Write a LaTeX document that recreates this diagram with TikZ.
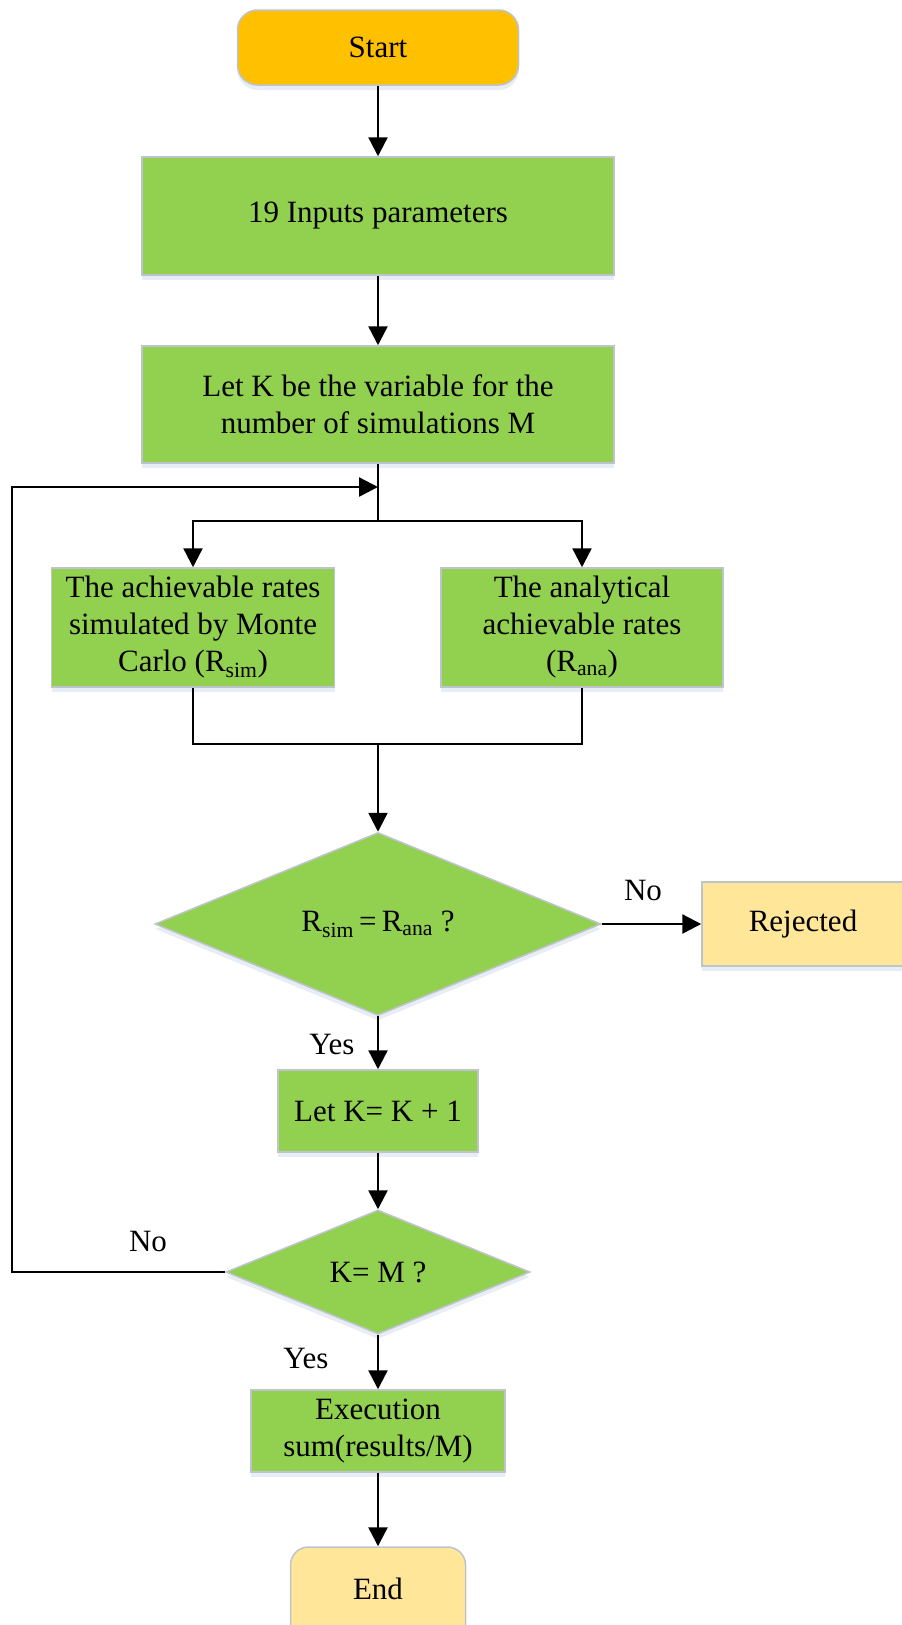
\documentclass[tikz,border=0pt]{standalone}
\usepackage{fontspec}
\setmainfont{Liberation Serif}
\usetikzlibrary{arrows.meta,shapes.geometric,shadows}
\definecolor{gfill}{HTML}{92D050}
\definecolor{ofill}{HTML}{FFC000}
\definecolor{yfill}{HTML}{FFE699}
\definecolor{bord}{HTML}{BFC4CC}
\definecolor{shc}{HTML}{C4D2E6}
\tikzset{
  base/.style={draw=bord, line width=1.5pt, inner sep=0pt, align=center,
    font=\fontsize{31}{37}\selectfont,
    drop shadow={shadow xshift=0pt, shadow yshift=-5pt, fill=shc, opacity=0.4}},
  gbox/.style={base, rectangle, fill=gfill},
  term/.style={base, rectangle, rounded corners=20pt},
  dia/.style={base, diamond, fill=gfill, aspect=2},
  conn/.style={line width=2.4pt, black},
  arr/.style={conn, -{Triangle[length=19pt,width=19pt]}},
  lbl/.style={font=\fontsize{31}{37}\selectfont, inner sep=0pt}
}
\begin{document}
\begin{tikzpicture}[x=1pt,y=-1pt]
\useasboundingbox (0,0) rectangle (902,1625);
\clip (0,0) rectangle (902,1625);
\fill[white] (0,0) rectangle (902,1625);

\node[term, fill=ofill, minimum width=281pt, minimum height=75pt] (start) at (378,47.5) {Start};
\node[gbox, minimum width=472pt, minimum height=118pt] (inp) at (378,216) {19 Inputs parameters};
\node[gbox, minimum width=472pt, minimum height=117pt] (letk) at (378,404.5) {Let K be the variable for the\\number of simulations M};
\node[gbox, minimum width=283pt, minimum height=119pt] (sim) at (193,627.5) {The achievable rates\\simulated by Monte\\Carlo (R\textsubscript{sim})};
\node[gbox, minimum width=282pt, minimum height=119pt] (ana) at (582,627.5) {The analytical\\achievable rates\\(R\textsubscript{ana})};
\node[dia, minimum width=446pt, minimum height=183pt] (d1) at (378,924) {R\textsubscript{sim}\,=\,R\textsubscript{ana} ?};
\node[gbox, fill=yfill, minimum width=202pt, minimum height=84pt] (rej) at (803,924) {Rejected};
\node[gbox, minimum width=200pt, minimum height=82pt] (inc) at (378,1111) {Let K= K + 1};
\node[dia, minimum width=304pt, minimum height=124pt] (d2) at (378,1272) {K= M ?};
\node[gbox, minimum width=254pt, minimum height=82pt] (exe) at (378,1431) {Execution\\sum(results/M)};
\node[term, fill=yfill, minimum width=175pt, minimum height=110pt, rounded corners=18pt] (end) at (378,1602) {};
\node[lbl] at (378,1589) {End};

\coordinate (split) at (378,521);
\coordinate (merge) at (378,744);
\coordinate (loopin) at (378,487);
\coordinate (loopa) at (12,1272);
\coordinate (loopb) at (12,487);

\draw[arr] (start) -- (inp);
\draw[arr] (inp) -- (letk);
\draw[conn] (letk.south) -- (split);
\draw[arr] (split) -| (sim.north);
\draw[arr] (split) -| (ana.north);
\draw[conn] (sim.south) |- (merge) -| (ana.south);
\draw[arr] (merge) -- (d1.north);
\draw[arr] (d1.east) -- (rej.west);
\draw[arr] (d1.south) -- (inc.north);
\draw[arr] (inc.south) -- (d2.north);
\draw[arr] (d2.west) -- (loopa) -- (loopb) -- (loopin);
\draw[arr] (d2.south) -- (exe.north);
\draw[arr] (exe.south) -- (end.north);

\node[lbl] (no1) at (643,890) {No};
\node[lbl] (yes1) at (332,1044) {Yes};
\node[lbl] (no2) at (148,1241) {No};
\node[lbl] (yes2) at (306,1358) {Yes};
\end{tikzpicture}
\end{document}
